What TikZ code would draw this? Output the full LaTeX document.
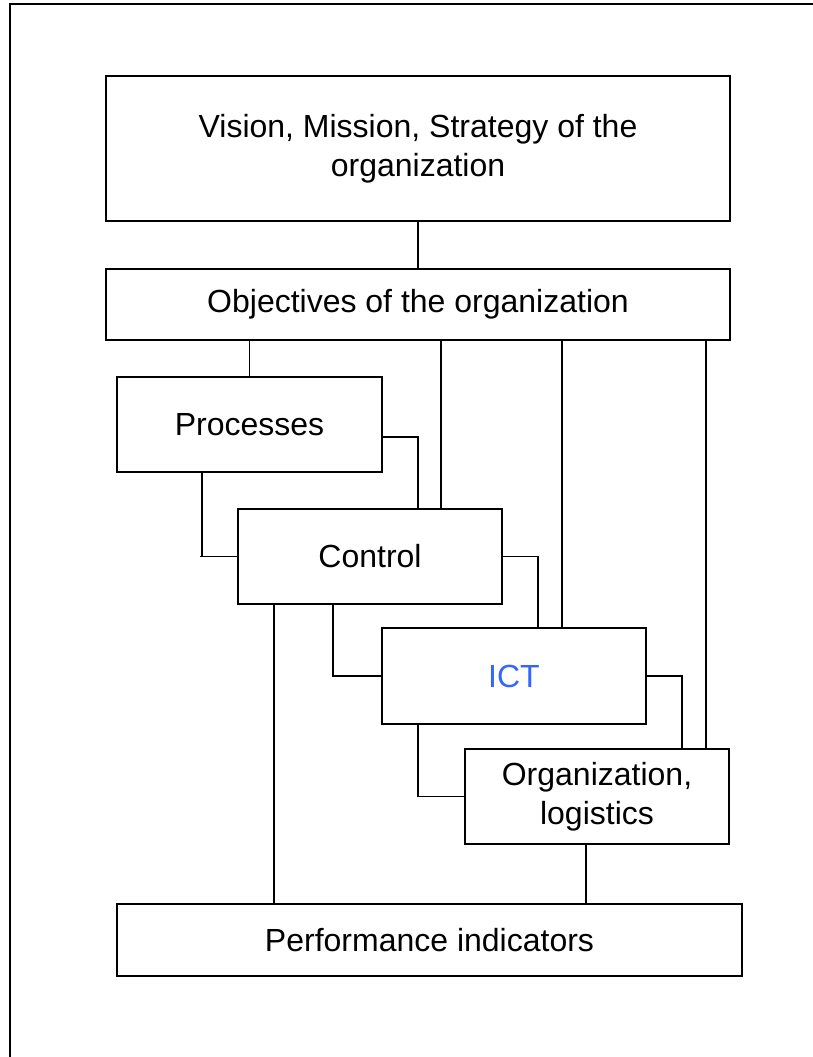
\documentclass[tikz,border=0pt]{standalone}
\usepackage{fontspec}
\setmainfont{Liberation Sans}
\usetikzlibrary{positioning}

\definecolor{ictblue}{RGB}{51,102,255}

\tikzset{
	box/.style={draw, line width=1.4pt, align=center, inner sep=0pt, outer sep=0pt,
		minimum width=264pt, minimum height=95pt,
		font=\fontsize{32pt}{39pt}\selectfont},
	link/.style={line width=1.4pt},
}

\begin{document}
\begin{tikzpicture}[x=1pt, y=-1pt]

		\useasboundingbox (0,0) rectangle (813,1057);
		% page frame, runs off to the right and bottom
		\draw[line width=2pt] (830,4.5) -- (9.5,4.5) -- (9.5,1080);

		% top blocks
		\node[box, minimum width=624pt, minimum height=145pt] (vision) at (418,148.5)
			{Vision, Mission, Strategy of the\\organization};
		\node[box, below=48pt of vision, minimum width=624pt, minimum height=71pt] (obj)
			{Objectives of the organization};

		% staircase of blocks
		\node[box, below right=37pt and 11pt of obj.south west, anchor=north west,
			minimum width=265pt] (proc) {Processes};
		\node[box, below right=37pt and 121pt of proc.south west, anchor=north west]
			(ctrl) {Control};
		\node[box, below right=24pt and 144pt of ctrl.south west, anchor=north west,
			minimum height=96pt] (ict) {\textcolor{ictblue}{ICT}};
		\node[box, below right=25pt and 83pt of ict.south west, anchor=north west]
			(org) {Organization,\\logistics};

		\node[box, anchor=north west, minimum width=625pt, minimum height=72pt]
			(perf) at ([yshift=-60pt]proc.west |- org.south) {Performance indicators};

		% vision -> objectives
		\draw[link] (vision.south) -- (obj.north);

		% objectives down to each block
		\draw[link] (proc.north) -- (proc.north |- obj.south);
		\draw[link] ([xshift=71pt]ctrl.north) -- ([xshift=71pt]ctrl.north |- obj.south);
		\draw[link] ([xshift=48pt]ict.north) -- ([xshift=48pt]ict.north |- obj.south);
		\draw[link] ([xshift=109pt]org.north) -- ([xshift=109pt]org.north |- obj.south);

		% right side links, one step down
		\draw[link] ([yshift=-12.5pt]proc.east) -| ([xshift=48pt]ctrl.north);
		\draw[link] (ctrl.east) -| ([xshift=24pt]ict.north);
		\draw[link] (ict.east) -| ([xshift=85pt]org.north);

		% left side links, one step down
		\coordinate (pdrop) at ([xshift=85pt]proc.south west);
		\draw[link] (pdrop) -- (pdrop |- ctrl.west);
		\draw[link] (pdrop |- ctrl.west) ++(-2,0) -- (ctrl.west);
		\draw[link] ([xshift=-37pt]ctrl.south) |- (ict.west);
		\draw[link] ([xshift=-96pt]ict.south) |- (org.west);

		% into performance indicators
		\draw[link] ([xshift=-96pt]ctrl.south) -- ([xshift=-96pt]ctrl.south |- perf.north);
		\draw[link] ([xshift=-11pt]org.south) -- ([xshift=-11pt]org.south |- perf.north);

	\end{tikzpicture}
\end{document}
